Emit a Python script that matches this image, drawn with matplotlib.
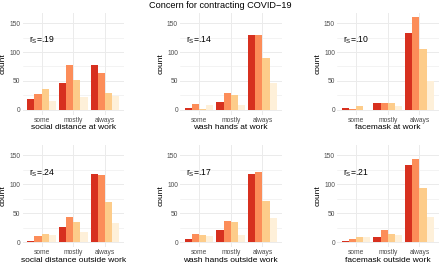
import numpy as np
from matplotlib import pyplot as plt

plt.rcParams['font.family'] = ['Liberation Sans', 'DejaVu Sans']
plt.rcParams['mathtext.fontset'] = 'custom'
plt.rcParams['mathtext.rm'] = 'Liberation Sans'
plt.rcParams['mathtext.it'] = 'Liberation Sans'

categories = ['some', 'mostly', 'always']
colors = ['#D7301F', '#FC8D59', '#FDCC8A', '#FEF0D9']

# rows: some, mostly, always; columns: concern level (high -> low)
social_distance_work = [[19, 28, 36, 16], [47, 77, 52, 23], [77, 64, 29, 24]]
wash_hands_work = [[3, 11, 2, 8], [14, 29, 26, 9], [129, 129, 89, 46]]
facemask_work = [[3, 2, 6, 0], [12, 12, 12, 6], [133, 160, 105, 50]]
social_distance_out = [[3, 11, 15, 13], [26, 44, 35, 18], [118, 117, 69, 34]]
wash_hands_out = [[6, 14, 12, 11], [22, 37, 36, 13], [118, 121, 72, 42]]
facemask_out = [[2, 6, 9, 10], [10, 21, 15, 13], [134, 144, 94, 43]]

panels = [
    (social_distance_work, 'social distance at work', '.19'),
    (wash_hands_work, 'wash hands at work', '.14'),
    (facemask_work, 'facemask at work', '.10'),
    (social_distance_out, 'social distance outside work', '.24'),
    (wash_hands_out, 'wash hands outside work', '.17'),
    (facemask_out, 'facemask outside work', '.21'),
]

W, H = 440, 265
fig = plt.figure(figsize=(4.4, 2.65), dpi=100)

lefts = [22.6, 180, 337]
tops = [12.6, 145]
pw, ph = 101.5, 102

grid_col = '#EBEBEB'
x = np.arange(1, 4)
bw = 0.9 / 4

for i, (vals, label, rs) in enumerate(panels):
    r, c = divmod(i, 3)
    ax = fig.add_axes([lefts[c] / W, 1 - (tops[r] + ph) / H, pw / W, ph / H])
    vals = np.array(vals)
    for k in range(4):
        ax.bar(x - 0.45 + bw * (k + 0.5), vals[:, k], width=bw, color=colors[k],
               linewidth=0, zorder=3)
    ax.set_xlim(0.4, 3.6)
    ax.set_ylim(-8, 168)
    for yv in [25, 75, 125]:
        ax.axhline(yv, color=grid_col, lw=0.4, zorder=0)
    for yv in [0, 50, 100, 150]:
        ax.axhline(yv, color=grid_col, lw=0.7, zorder=0)
    for xv in x:
        ax.axvline(xv, color=grid_col, lw=0.7, zorder=0)
    ax.set_xticks(x)
    ax.set_xticklabels(categories)
    ax.set_yticks([0, 50, 100, 150])
    ax.tick_params(length=0, labelsize=4.8, labelcolor='#4D4D4D', pad=1.5)
    for s in ax.spines.values():
        s.set_visible(False)
    ax.set_xlabel(label, fontsize=6, labelpad=0.5)
    ax.set_ylabel('count', fontsize=6, labelpad=2)
    ax.text(1, 120, r'r$_{\mathrm{S}}$=' + rs, fontsize=6.2, ha='center', va='center')

fig.text(220 / W, 1 - 5 / H, 'Concern for contracting COVID\u221219',
         fontsize=6.6, ha='center', va='center')

plt.savefig('out.png', dpi=100)
